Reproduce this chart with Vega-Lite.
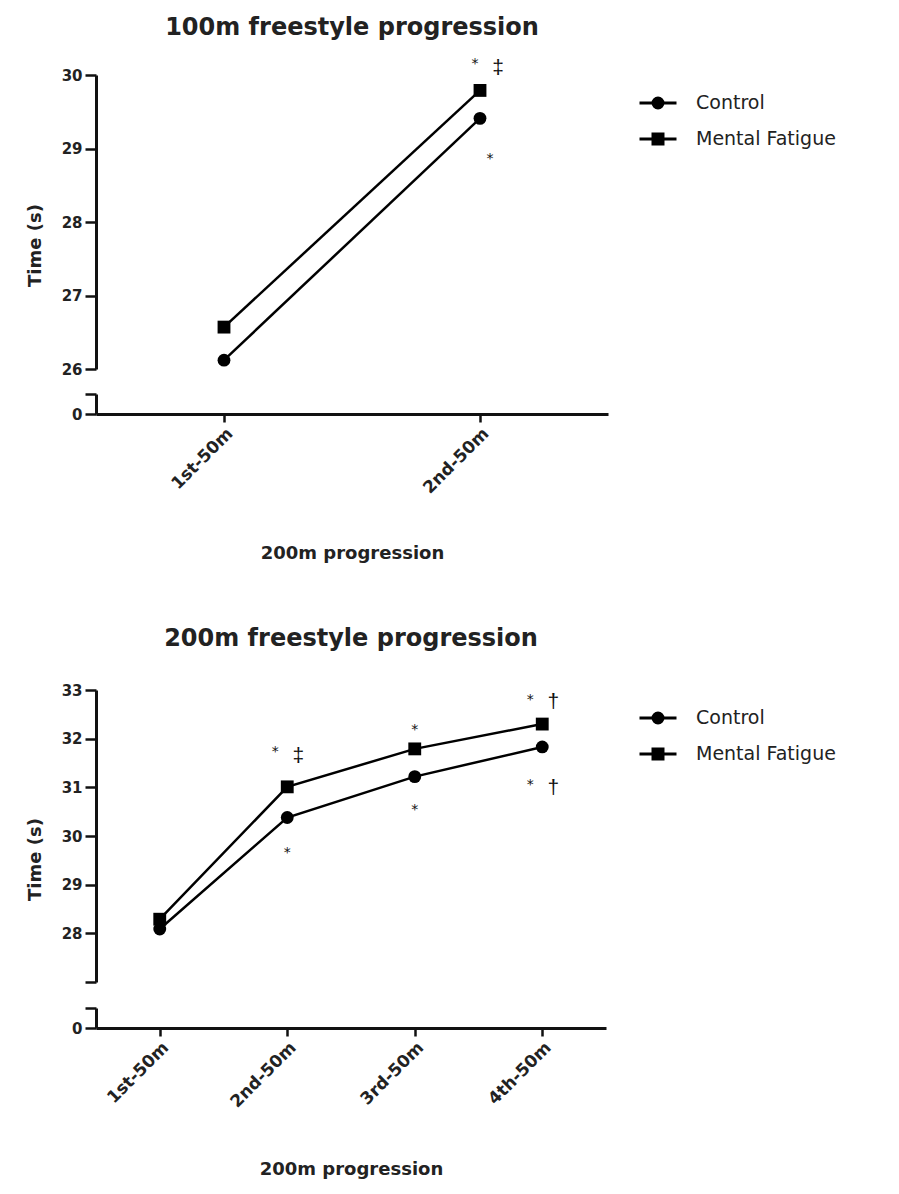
{
  "$schema": "https://vega.github.io/schema/vega-lite/v6.json",
  "padding": {"left": 26, "top": 16, "right": 5, "bottom": 5},
  "background": "white",
  "datasets": {
    "p1": [
      {"seg": "1st-50m", "group": "Control", "time": 26.12},
      {"seg": "2nd-50m", "group": "Control", "time": 29.41},
      {"seg": "1st-50m", "group": "Mental Fatigue", "time": 26.57},
      {"seg": "2nd-50m", "group": "Mental Fatigue", "time": 29.79}
    ],
    "p2": [
      {"seg": "1st-50m", "group": "Control", "time": 28.09},
      {"seg": "2nd-50m", "group": "Control", "time": 30.38},
      {"seg": "3rd-50m", "group": "Control", "time": 31.22},
      {"seg": "4th-50m", "group": "Control", "time": 31.83},
      {"seg": "1st-50m", "group": "Mental Fatigue", "time": 28.29},
      {"seg": "2nd-50m", "group": "Mental Fatigue", "time": 31.01},
      {"seg": "3rd-50m", "group": "Mental Fatigue", "time": 31.79},
      {"seg": "4th-50m", "group": "Mental Fatigue", "time": 32.30}
    ],
    "a1": [
      {"seg": "2nd-50m", "level": 30.20, "glyph": "*", "paired": true},
      {"seg": "2nd-50m", "level": 30.09, "glyph": "‡", "paired": true},
      {"seg": "2nd-50m", "level": 28.91, "glyph": "*", "paired": false}
    ],
    "a2": [
      {"seg": "2nd-50m", "level": 31.81, "glyph": "*", "paired": true},
      {"seg": "2nd-50m", "level": 31.65, "glyph": "‡", "paired": true},
      {"seg": "2nd-50m", "level": 29.74, "glyph": "*", "paired": false},
      {"seg": "3rd-50m", "level": 32.26, "glyph": "*", "paired": false},
      {"seg": "3rd-50m", "level": 30.62, "glyph": "*", "paired": false},
      {"seg": "4th-50m", "level": 32.88, "glyph": "*", "paired": true},
      {"seg": "4th-50m", "level": 32.75, "glyph": "†", "paired": true},
      {"seg": "4th-50m", "level": 31.14, "glyph": "*", "paired": true},
      {"seg": "4th-50m", "level": 30.99, "glyph": "†", "paired": true}
    ]
  },
  "vconcat": [
    {
      "bounds": "flush",
      "spacing": 25,
      "vconcat": [
        {
          "width": 512,
          "height": 294,
          "title": {"text": "100m freestyle progression", "offset": 17},
          "layer": [
            {
              "data": {"name": "p1"},
              "mark": {"type": "line", "color": "black", "strokeWidth": 2.5},
              "encoding": {
                "x": {"field": "seg", "type": "ordinal", "scale": {"type": "point", "domain": ["1st-50m", "2nd-50m"], "padding": 0.5}, "axis": null},
                "y": {"field": "time", "type": "quantitative", "scale": {"domain": [26, 30], "zero": false, "nice": false},
                      "axis": {"values": [26, 27, 28, 29, 30], "format": "d", "title": "Time (s)", "titleX": -52, "titleY": 170, "titleAngle": -90, "titleAlign": "center", "titleBaseline": "bottom"}},
                "detail": {"field": "group"}
              }
            },
            {
              "data": {"name": "p1"},
              "transform": [{"filter": "datum.group == 'Control'"}],
              "mark": {"type": "point", "shape": "circle", "filled": true, "color": "black", "opacity": 1, "size": 165},
              "encoding": {"x": {"field": "seg", "type": "ordinal"}, "y": {"field": "time", "type": "quantitative"}}
            },
            {
              "data": {"name": "p1"},
              "transform": [{"filter": "datum.group == 'Mental Fatigue'"}],
              "mark": {"type": "point", "shape": "square", "filled": true, "color": "black", "opacity": 1, "size": 165},
              "encoding": {"x": {"field": "seg", "type": "ordinal"}, "y": {"field": "time", "type": "quantitative"}}
            },
            {
              "data": {"name": "p1"},
              "mark": {"type": "point", "filled": false, "color": "black", "strokeWidth": 3, "opacity": 0},
              "encoding": {
                "x": {"field": "seg", "type": "ordinal"},
                "y": {"field": "time", "type": "quantitative"},
                "shape": {"field": "group", "type": "nominal",
                  "scale": {"domain": ["Control", "Mental Fatigue"], "range": [
                    "M-1,0H1M-0.27,0A0.27,0.27,0,1,1,0.27,0A0.27,0.27,0,1,1,-0.27,0ZM-0.135,0A0.135,0.135,0,1,1,0.135,0A0.135,0.135,0,1,1,-0.135,0ZM-0.03,0A0.03,0.03,0,1,1,0.03,0A0.03,0.03,0,1,1,-0.03,0Z",
                    "M-1,0H1M-0.27,-0.27H0.27V0.27H-0.27ZM-0.135,-0.135H0.135V0.135H-0.135Z"]},
                  "legend": {"title": null, "orient": "right", "offset": 22, "padding": 8, "symbolSize": 1369, "symbolStrokeWidth": 3, "symbolStrokeColor": "black", "symbolFillColor": "black", "symbolOpacity": 1, "labelFont": "DejaVu Sans", "labelFontSize": 19, "labelColor": "#222", "labelOffset": 18, "rowPadding": 5}}
              }
            },
            {
              "data": {"name": "a1"},
              "transform": [{"filter": "datum.glyph == '*' && datum.paired"}],
              "mark": {"type": "text", "fontSize": 14, "color": "#111", "dx": -5, "dy": 4, "baseline": "middle"},
              "encoding": {"x": {"field": "seg", "type": "ordinal"}, "y": {"field": "level", "type": "quantitative"}, "text": {"field": "glyph"}}
            },
            {
              "data": {"name": "a1"},
              "transform": [{"filter": "datum.glyph == '*' && !datum.paired"}],
              "mark": {"type": "text", "fontSize": 14, "color": "#111", "dx": 10, "dy": 4, "baseline": "middle"},
              "encoding": {"x": {"field": "seg", "type": "ordinal"}, "y": {"field": "level", "type": "quantitative"}, "text": {"field": "glyph"}}
            },
            {
              "data": {"name": "a1"},
              "transform": [{"filter": "datum.glyph != '*'"}],
              "mark": {"type": "text", "fontSize": 21, "font": "Liberation Sans", "color": "#111", "dx": 18, "dy": 0, "baseline": "middle"},
              "encoding": {"x": {"field": "seg", "type": "ordinal"}, "y": {"field": "level", "type": "quantitative"}, "text": {"field": "glyph"}}
            }
          ]
        },
        {
          "width": 512,
          "height": 20,
          "data": {"name": "p1"},
          "mark": {"type": "point", "opacity": 0, "clip": true},
          "encoding": {
            "x": {"field": "seg", "type": "ordinal", "scale": {"type": "point", "domain": ["1st-50m", "2nd-50m"], "padding": 0.5},
                  "axis": {"title": "200m progression", "labelAngle": -45, "tickSize": 8, "titlePadding": 48}},
            "y": {"field": "time", "type": "quantitative", "scale": {"domain": [0, 1], "nice": false},
                  "axis": {"values": [0, 1], "labelExpr": "datum.value == 0 ? '0' : ''", "title": null}}
          }
        }
      ]
    },
    {
      "bounds": "flush",
      "spacing": 26,
      "vconcat": [
        {
          "width": 510,
          "height": 292,
          "title": {"text": "200m freestyle progression", "offset": 32},
          "layer": [
            {
              "data": {"name": "p2"},
              "mark": {"type": "line", "color": "black", "strokeWidth": 2.5},
              "encoding": {
                "x": {"field": "seg", "type": "ordinal", "scale": {"type": "point", "domain": ["1st-50m", "2nd-50m", "3rd-50m", "4th-50m"], "padding": 0.5}, "axis": null},
                "y": {"field": "time", "type": "quantitative", "scale": {"domain": [27, 33], "zero": false, "nice": false},
                      "axis": {"values": [27, 28, 29, 30, 31, 32, 33], "labelExpr": "datum.value == 27 ? '' : datum.label", "title": "Time (s)", "titleX": -52, "titleY": 169, "titleAngle": -90, "titleAlign": "center", "titleBaseline": "bottom"}},
                "detail": {"field": "group"}
              }
            },
            {
              "data": {"name": "p2"},
              "transform": [{"filter": "datum.group == 'Control'"}],
              "mark": {"type": "point", "shape": "circle", "filled": true, "color": "black", "opacity": 1, "size": 165},
              "encoding": {"x": {"field": "seg", "type": "ordinal"}, "y": {"field": "time", "type": "quantitative"}}
            },
            {
              "data": {"name": "p2"},
              "transform": [{"filter": "datum.group == 'Mental Fatigue'"}],
              "mark": {"type": "point", "shape": "square", "filled": true, "color": "black", "opacity": 1, "size": 165},
              "encoding": {"x": {"field": "seg", "type": "ordinal"}, "y": {"field": "time", "type": "quantitative"}}
            },
            {
              "data": {"name": "p2"},
              "mark": {"type": "point", "filled": false, "color": "black", "strokeWidth": 3, "opacity": 0},
              "encoding": {
                "x": {"field": "seg", "type": "ordinal"},
                "y": {"field": "time", "type": "quantitative"},
                "shape": {"field": "group", "type": "nominal",
                  "scale": {"domain": ["Control", "Mental Fatigue"], "range": [
                    "M-1,0H1M-0.27,0A0.27,0.27,0,1,1,0.27,0A0.27,0.27,0,1,1,-0.27,0ZM-0.135,0A0.135,0.135,0,1,1,0.135,0A0.135,0.135,0,1,1,-0.135,0ZM-0.03,0A0.03,0.03,0,1,1,0.03,0A0.03,0.03,0,1,1,-0.03,0Z",
                    "M-1,0H1M-0.27,-0.27H0.27V0.27H-0.27ZM-0.135,-0.135H0.135V0.135H-0.135Z"]},
                  "legend": {"title": null, "orient": "right", "offset": 24, "padding": 8, "symbolSize": 1369, "symbolStrokeWidth": 3, "symbolStrokeColor": "black", "symbolFillColor": "black", "symbolOpacity": 1, "labelFont": "DejaVu Sans", "labelFontSize": 19, "labelColor": "#222", "labelOffset": 18, "rowPadding": 5}}
              }
            },
            {
              "data": {"name": "a2"},
              "transform": [{"filter": "datum.glyph == '*' && datum.paired"}],
              "mark": {"type": "text", "fontSize": 14, "color": "#111", "dx": -12, "dy": 4, "baseline": "middle"},
              "encoding": {"x": {"field": "seg", "type": "ordinal"}, "y": {"field": "level", "type": "quantitative"}, "text": {"field": "glyph"}}
            },
            {
              "data": {"name": "a2"},
              "transform": [{"filter": "datum.glyph == '*' && !datum.paired"}],
              "mark": {"type": "text", "fontSize": 14, "color": "#111", "dx": 0, "dy": 4, "baseline": "middle"},
              "encoding": {"x": {"field": "seg", "type": "ordinal"}, "y": {"field": "level", "type": "quantitative"}, "text": {"field": "glyph"}}
            },
            {
              "data": {"name": "a2"},
              "transform": [{"filter": "datum.glyph != '*'"}],
              "mark": {"type": "text", "fontSize": 21, "font": "Liberation Sans", "color": "#111", "dx": 11, "dy": 0, "baseline": "middle"},
              "encoding": {"x": {"field": "seg", "type": "ordinal"}, "y": {"field": "level", "type": "quantitative"}, "text": {"field": "glyph"}}
            }
          ]
        },
        {
          "width": 510,
          "height": 20,
          "data": {"name": "p2"},
          "mark": {"type": "point", "opacity": 0, "clip": true},
          "encoding": {
            "x": {"field": "seg", "type": "ordinal", "scale": {"type": "point", "domain": ["1st-50m", "2nd-50m", "3rd-50m", "4th-50m"], "padding": 0.5},
                  "axis": {"title": "200m progression", "labelAngle": -45, "tickSize": 8, "titlePadding": 50}},
            "y": {"field": "time", "type": "quantitative", "scale": {"domain": [0, 1], "nice": false},
                  "axis": {"values": [0, 1], "labelExpr": "datum.value == 0 ? '0' : ''", "title": null}}
          }
        }
      ]
    }
  ],
  "spacing": 64,
  "resolve": {"scale": {"shape": "independent"}},
  "config": {
    "view": {"stroke": null},
    "font": "DejaVu Sans",
    "axis": {
      "grid": false,
      "domainColor": "#111",
      "domainWidth": 3,
      "tickColor": "#111",
      "tickWidth": 2.5,
      "tickSize": 11,
      "labelFont": "DejaVu Sans",
      "labelFontWeight": "bold",
      "labelFontSize": 15,
      "labelColor": "#222",
      "labelPadding": 3,
      "titleFont": "DejaVu Sans",
      "titleFontWeight": "bold",
      "titleFontSize": 18,
      "titleColor": "#222"
    },
    "axisX": {"labelFontSize": 17},
    "title": {"font": "DejaVu Sans", "fontSize": 24, "fontWeight": "bold", "color": "#222", "anchor": "middle"}
  }
}
